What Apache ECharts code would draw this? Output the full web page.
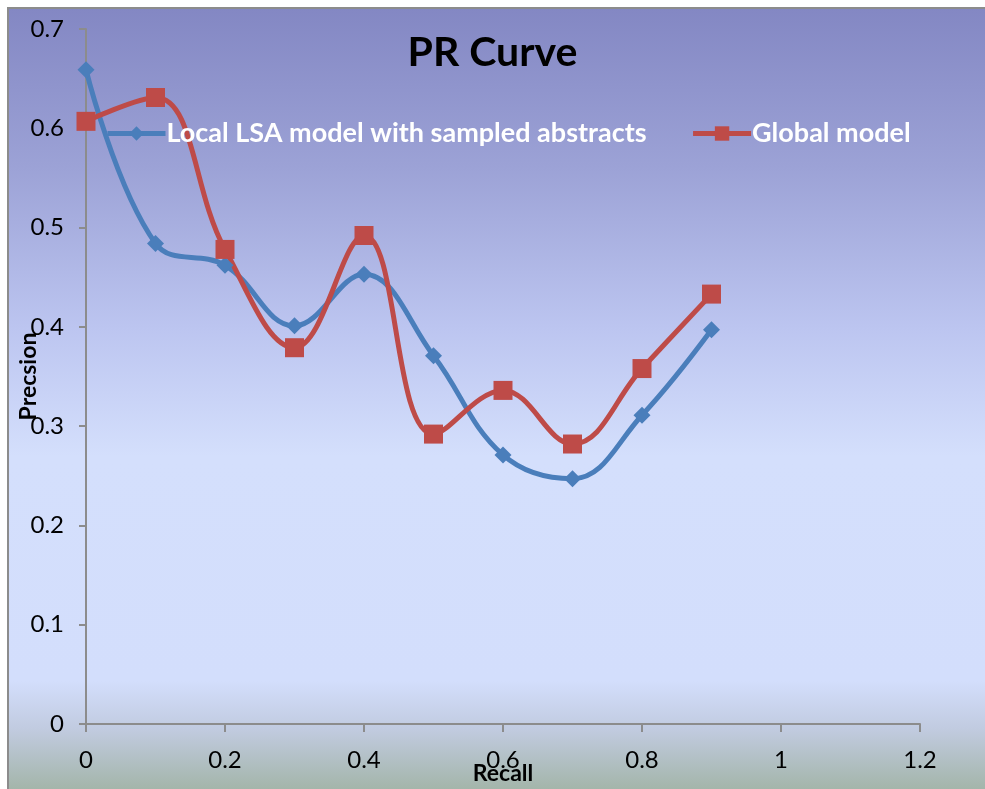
<!DOCTYPE html>
<html><head><meta charset="utf-8">
<script src="https://cdn.jsdelivr.net/npm/echarts@6/dist/echarts.min.js"></script>
<style>html,body{margin:0;padding:0;background:#fff}#c{width:985px;height:789px}</style>
</head><body><div id="c"></div>
<script>
const recall = [0, 0.1, 0.2, 0.3, 0.4, 0.5, 0.6, 0.7, 0.8, 0.9];
const localLSA = [0.659, 0.484, 0.462, 0.401, 0.453, 0.371, 0.271, 0.247, 0.311, 0.397];
const globalModel = [0.607, 0.631, 0.478, 0.379, 0.492, 0.292, 0.336, 0.282, 0.358, 0.433];
const seriesNames = ['Local LSA model with sampled abstracts', 'Global model'];

const FONT = 'Lato';
const chart = echarts.init(document.getElementById('c'), null, {renderer: 'canvas'});
const pair = (xs, ys) => xs.map((x, i) => [x, ys[i]]);
const axisNameStyle = {fontFamily: FONT, fontSize: 23, fontWeight: 'bold', color: '#000'};
chart.setOption({
  animation: false,
  graphic: [{
    type: 'rect', z: -10, silent: true,
    shape: {x: 8, y: 8, width: 985, height: 800},
    style: {
      fill: new echarts.graphic.LinearGradient(0, 0, 0, 1, [
        {offset: 0, color: '#8387c3'},
        {offset: 0.2, color: '#9ca2d6'},
        {offset: 0.4, color: '#bcc5f0'},
        {offset: 0.56, color: '#d4dffc'},
        {offset: 0.84, color: '#d3defc'},
        {offset: 0.9, color: '#c1cbe0'},
        {offset: 1, color: '#9aae98'}
      ]),
      stroke: '#8c8c8c', lineWidth: 2
    }
  }],
  title: {
    text: 'PR Curve', left: 'center', top: 32, padding: 0,
    textStyle: {fontFamily: FONT, fontSize: 41, fontWeight: 'bold', color: '#000'}
  },
  legend: {
    left: 100, top: 115, itemGap: 44, itemWidth: 58, itemHeight: 18,
    lineStyle: {width: 5},
    textStyle: {fontFamily: FONT, fontSize: 27, fontWeight: 'bold', color: '#fff', padding: [0, 0, 0, -4]},
    data: seriesNames
  },
  grid: {left: 86, right: 65, top: 29, bottom: 65, containLabel: false, outerBoundsMode: 'none'},
  xAxis: {
    type: 'value', min: 0, max: 1.2, interval: 0.2,
    name: 'Recall', nameLocation: 'middle', nameGap: 38, nameMoveOverlap: false,
    nameTextStyle: axisNameStyle,
    axisLine: {show: true, lineStyle: {color: '#8c8c8c', width: 2}},
    axisTick: {show: true, length: 8, lineStyle: {color: '#8c8c8c', width: 2}},
    axisLabel: {margin: 24, fontFamily: FONT, fontSize: 24, color: '#000'},
    splitLine: {show: false}
  },
  yAxis: {
    type: 'value', min: 0, max: 0.7, interval: 0.1,
    name: 'Precsion', nameLocation: 'middle', nameGap: 46, nameRotate: 90, nameMoveOverlap: false,
    nameTextStyle: axisNameStyle,
    axisLine: {show: true, lineStyle: {color: '#8c8c8c', width: 2}},
    axisTick: {show: true, length: 7, lineStyle: {color: '#8c8c8c', width: 2}},
    axisLabel: {margin: 22, fontFamily: FONT, fontSize: 24, color: '#000'},
    splitLine: {show: false}
  },
  series: [{
    name: seriesNames[0], type: 'line', smooth: 0.4,
    data: pair(recall, localLSA),
    symbol: 'diamond', symbolSize: 17,
    lineStyle: {color: '#4a7ebb', width: 5},
    itemStyle: {color: '#4a7ebb'}
  }, {
    name: seriesNames[1], type: 'line', smooth: 0.4,
    data: pair(recall, globalModel),
    symbol: 'rect', symbolSize: 19,
    lineStyle: {color: '#be4b48', width: 5},
    itemStyle: {color: '#be4b48'}
  }]
});
</script></body></html>
